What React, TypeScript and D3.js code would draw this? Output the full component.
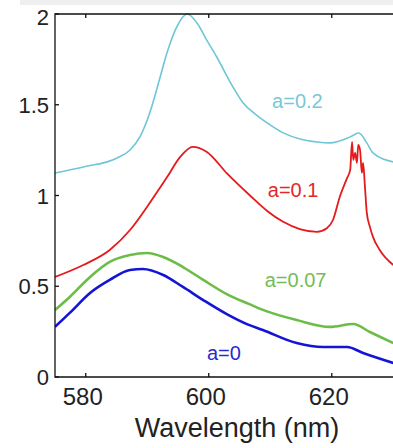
import React from "react";
import * as d3 from "d3";

const cyanWl = [575, 579.6, 585.1, 587.2, 588.8, 590.4, 592.1, 593.2, 594.8, 596.5, 598.1, 599.6, 601.3, 603.9, 605.6, 607.5, 609.5, 612.1, 615.0, 617.6, 619.7, 623.0, 624.4, 625.7, 626.7, 630];
const cyanVal = [1.124, 1.157, 1.207, 1.251, 1.323, 1.455, 1.653, 1.785, 1.929, 2.0, 1.95, 1.86, 1.763, 1.60, 1.51, 1.45, 1.40, 1.345, 1.31, 1.295, 1.29, 1.323, 1.344, 1.29, 1.235, 1.185];

const redWl = [575, 579.6, 583.9, 587.2, 590.4, 593.2, 595.3, 597.4, 599.7, 603.0, 606.7, 609.5, 612.1, 614.8, 617.6, 619.2, 620.2, 621.3, 622.5, 623.0, 623.3, 623.5, 623.8, 624.1, 624.3, 624.6, 624.9, 625.1, 625.4, 625.7, 626.2, 626.7, 627.8, 630];
const redVal = [0.551, 0.617, 0.70, 0.81, 0.959, 1.10, 1.21, 1.268, 1.24, 1.12, 1.0, 0.915, 0.855, 0.815, 0.80, 0.82, 0.865, 0.992, 1.097, 1.141, 1.295, 1.196, 1.235, 1.18, 1.279, 1.251, 1.125, 1.18, 1.047, 0.904, 0.827, 0.772, 0.70, 0.617];

const greenWl = [575, 577.4, 580.7, 583.9, 587.2, 590.0, 592.6, 595.8, 599.1, 603.0, 606.7, 608.8, 614.3, 619.7, 623.5, 626.2, 630];
const greenVal = [0.369, 0.441, 0.551, 0.634, 0.672, 0.683, 0.661, 0.606, 0.535, 0.455, 0.40, 0.37, 0.314, 0.276, 0.292, 0.248, 0.187];

const blueWl = [575, 577.4, 580.7, 583.9, 587.2, 589.3, 592.6, 595.8, 599.1, 603.0, 606.3, 608.8, 614.3, 618.6, 622.5, 625.1, 630];
const blueVal = [0.276, 0.353, 0.463, 0.535, 0.59, 0.595, 0.562, 0.496, 0.424, 0.345, 0.29, 0.259, 0.187, 0.165, 0.165, 0.132, 0.077];

const seriesNames = ["a=0.2", "a=0.1", "a=0.07", "a=0"];
const labelWl = [610.3, 609.6, 609.1, 599.7];
const labelVal = [1.482, 0.992, 0.496, 0.094];

const xTicks = [580, 600, 620];
const yTicks = [0, 0.5, 1, 1.5, 2];
const yTickLabels = ["0", "0.5", "1", "1.5", "2"];
const xTitle = "Wavelength (nm)";

const W = 393;
const H = 448;
const FONT = "'Liberation Sans', Arial, Helvetica, sans-serif";

export default function App() {
  const x = d3.scaleLinear().domain([575, 630]).range([55, 393.25]);
  const y = d3.scaleLinear().domain([0, 2]).range([377, 14]);

  const series = [
    { wl: cyanWl, val: cyanVal, color: "#6ec6d6", width: 1.6 },
    { wl: redWl, val: redVal, color: "#e41a1c", width: 1.8 },
    { wl: greenWl, val: greenVal, color: "#6cbd48", width: 2.6 },
    { wl: blueWl, val: blueVal, color: "#1414d4", width: 2.6 },
  ];
  const labelColors = ["#78c8d6", "#e0282c", "#74bc55", "#2a2ad0"];

  const line = d3
    .line<[number, number]>()
    .x((d) => x(d[0]))
    .y((d) => y(d[1]))
    .curve(d3.curveMonotoneX);

  const x0 = x(575);
  const y0 = y(0);
  const yTop = y(2);

  return (
    <svg
      width={W}
      height={H}
      style={{ position: "absolute", left: 0, top: 0, display: "block", background: "#fff" }}
      fontFamily={FONT}
    >
      <rect x={0} y={0} width={W} height={H} fill="#fff" />
      <rect x={20} y={0} width={W - 20} height={5} fill="#efefef" />
      <defs>
        <clipPath id="plotclip">
          <rect x={x0} y={0} width={W - x0} height={y0} />
        </clipPath>
      </defs>
      <g clipPath="url(#plotclip)">
        {series.map((s, i) => (
          <path
            key={i}
            d={line(s.wl.map((w, j) => [w, s.val[j]] as [number, number])) || ""}
            fill="none"
            stroke={s.color}
            strokeWidth={s.width}
            strokeLinejoin="round"
          />
        ))}
      </g>
      <path d={`M${W},${yTop}H${x0}V${y0}H${W}`} fill="none" stroke="#111" strokeWidth={1.3} />
      {xTicks.map((t) => (
        <g key={t}>
          <line x1={x(t)} x2={x(t)} y1={y0} y2={y0 - 4} stroke="#111" strokeWidth={1.3} />
          <line x1={x(t)} x2={x(t)} y1={yTop} y2={yTop + 4} stroke="#111" strokeWidth={1.3} />
          <text x={x(t) - 3} y={404.5} textAnchor="middle" fontSize={24} fill="#222">
            {t}
          </text>
        </g>
      ))}
      {yTicks.map((t, i) => (
        <g key={t}>
          <line x1={x0} x2={x0 + 4} y1={y(t)} y2={y(t)} stroke="#111" strokeWidth={1.3} />
          <text
            x={49}
            y={y(t) + (t === 2 ? 11 : 8)}
            textAnchor="end"
            fontSize={22}
            fill="#222"
          >
            {yTickLabels[i]}
          </text>
        </g>
      ))}
      <text x={237} y={437} textAnchor="middle" fontSize={27} fill="#222">
        {xTitle}
      </text>
      {seriesNames.map((n, i) => (
        <text key={n} x={x(labelWl[i])} y={y(labelVal[i])} fontSize={20} fill={labelColors[i]}>
          {n}
        </text>
      ))}
    </svg>
  );
}
